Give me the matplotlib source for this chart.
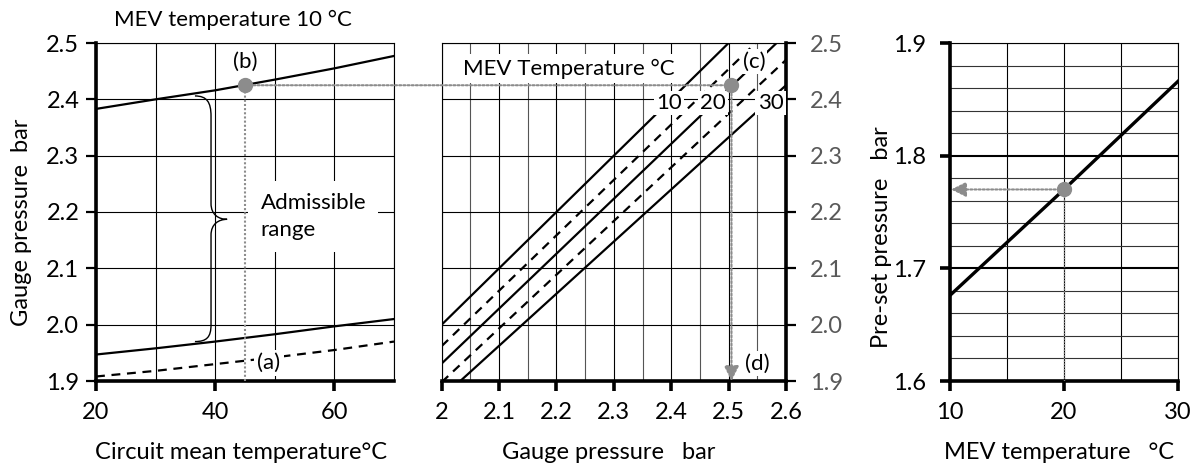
import matplotlib
matplotlib.use("Agg")
import matplotlib.pyplot as plt
from matplotlib.patches import ConnectionPatch, PathPatch
from matplotlib.path import Path
from matplotlib.ticker import MultipleLocator

plt.rcParams['font.family'] = ['Lato', 'DejaVu Sans']

# left panel: admissible gauge pressure vs circuit mean temperature (MEV 10 C)
circuit_temp = [20, 30, 40, 50, 60, 70]
upper_limit = [2.383, 2.400, 2.416, 2.435, 2.455, 2.477]
lower_limit = [1.947, 1.958, 1.970, 1.983, 1.997, 2.010]
fill_line = [1.908, 1.918, 1.930, 1.942, 1.955, 1.970]
point_b = (45, 2.425)

# brace: top end, bottom end, spine x, tip
brace_top = (36.6, 2.406)
brace_bottom = (36.6, 1.970)
brace_x = 39.3
brace_tip = (42.0, 2.187)

# middle panel: pressure conversion lines per MEV temperature
gauge_ends = [2.0, 2.6]
mev_temps = [10, 15, 20, 25, 30]
mev_lines = [
    [2.000, 2.600],
    [1.962, 2.552],
    [1.931, 2.516],
    [1.898, 2.470],
    [1.870, 2.425],
]
mev_styles = ['-', '--', '-', '--', '-']
mev_label_x = [2.396, 2.473, 2.573]
mev_label_y = 2.393
point_c = (2.505, 2.425)

# right panel: pre-set pressure vs MEV temperature
mev_temp = [10, 20, 30]
preset = [1.676, 1.770, 1.866]
point_r = (20, 1.770)

GREY = '#8c8c8c'
FS = 16      # annotations
TFS = 17     # tick labels
LFS = 17     # axis labels
DASH = (0, (4, 3))

fig = plt.figure(figsize=(11.96, 4.66), dpi=100)
W, H = 1196, 466
ax1 = fig.add_axes([96 / W, 85 / H, 298 / W, 338 / H])
ax2 = fig.add_axes([441.7 / W, 85 / H, 344.3 / W, 338 / H])
ax3 = fig.add_axes([950 / W, 85 / H, 228 / W, 338 / H])


def frame(ax, thick):
    for name, sp in ax.spines.items():
        sp.set_linewidth(2.6 if name in thick else 0.8)
        sp.set_color('black')
    ax.set_axisbelow(True)
    ax.tick_params(which='minor', length=0)
    ax.tick_params(axis='x', which='major', direction='out', length=7,
                   width=2.6, labelsize=TFS, pad=8)
    ax.tick_params(axis='y', which='major', direction='out', length=7,
                   width=1.6, labelsize=TFS)


# ---- left
ax1.set_xlim(20, 70)
ax1.set_ylim(1.9, 2.5)
ax1.set_xticks([20, 40, 60])
ax1.xaxis.set_minor_locator(MultipleLocator(10))
ax1.set_yticks([1.9, 2.0, 2.1, 2.2, 2.3, 2.4, 2.5])
ax1.set_yticklabels(['1.9', '2.0', '2.1', '2.2', '2.3', '2.4', '2.5'])
ax1.grid(which='both', color='black', lw=0.8)
frame(ax1, ['left', 'bottom'])
ax1.tick_params(axis='y', pad=5)

ax1.plot(circuit_temp, upper_limit, color='black', lw=1.6, zorder=3)
ax1.plot(circuit_temp, lower_limit, color='black', lw=1.6, zorder=3)
ax1.plot(circuit_temp, fill_line, color='black', lw=1.6, ls=DASH, zorder=3)

ax1.plot([point_b[0], point_b[0]], [1.9, point_b[1]], color=GREY, lw=1.5,
         ls=(0, (1, 1)), zorder=3)
ax1.plot(*point_b, 'o', color=GREY, ms=10, zorder=6)
ax1.text(point_b[0], 2.467, '(b)', ha='center', va='center', fontsize=FS)
ax1.text(49, 1.932, '(a)', ha='center', va='center', fontsize=FS, zorder=5,
         bbox=dict(boxstyle='square,pad=0.15', fc='white', ec='none'))
ax1.text(47.6, 2.192, 'Admissible\nrange', ha='left', va='center', fontsize=FS,
         linespacing=1.4, zorder=5,
         bbox=dict(boxstyle='square,pad=0.55', fc='white', ec='none'))

tx, ty = brace_tip
verts = [
    brace_top,
    (38.6, brace_top[1]), (brace_x, 2.395), (brace_x, 2.37),
    (brace_x, 2.215),
    (brace_x, 2.195), (40.6, ty), (tx, ty),
    (40.6, ty), (brace_x, 2.179), (brace_x, 2.159),
    (brace_x, 2.0),
    (brace_x, 1.978), (38.6, brace_bottom[1]), brace_bottom,
]
codes = [Path.MOVETO,
         Path.CURVE4, Path.CURVE4, Path.CURVE4,
         Path.LINETO,
         Path.CURVE4, Path.CURVE4, Path.CURVE4,
         Path.CURVE4, Path.CURVE4, Path.CURVE4,
         Path.LINETO,
         Path.CURVE4, Path.CURVE4, Path.CURVE4]
ax1.add_patch(PathPatch(Path(verts, codes), fc='none', ec='black', lw=1.0, zorder=4))

ax1.set_xlabel('Circuit mean temperature°C', fontsize=LFS)
ax1.xaxis.set_label_coords(0.486, -0.18)
ax1.set_ylabel('Gauge pressure  bar', fontsize=LFS)
ax1.yaxis.set_label_coords(-0.215, 0.47)
fig.text(233 / W, 1 - 20 / H, 'MEV temperature 10 °C', ha='center', va='center',
         fontsize=FS)

# ---- middle
ax2.set_xlim(2.0, 2.6)
ax2.set_ylim(1.9, 2.5)
ax2.set_xticks([2.0, 2.1, 2.2, 2.3, 2.4, 2.5, 2.6])
ax2.set_xticklabels(['2', '2.1', '2.2', '2.3', '2.4', '2.5', '2.6'])
ax2.xaxis.set_minor_locator(MultipleLocator(0.05))
ax2.set_yticks([1.9, 2.0, 2.1, 2.2, 2.3, 2.4, 2.5])
ax2.set_yticklabels(['1.9', '2.0', '2.1', '2.2', '2.3', '2.4', '2.5'])
ax2.yaxis.tick_right()
ax2.grid(which='major', color='black', lw=0.8)
ax2.grid(which='minor', axis='x', color='#555555', lw=0.8)
frame(ax2, ['right', 'bottom'])
ax2.tick_params(axis='y', pad=10, labelcolor='#595959')

for vals, style in zip(mev_lines, mev_styles):
    ax2.plot(gauge_ends, vals, color='black', lw=1.6,
             ls='-' if style == '-' else DASH, zorder=3)

ax2.text(2.221, 2.454, 'MEV Temperature °C', ha='center', va='center',
         fontsize=FS, zorder=5,
         bbox=dict(boxstyle='square,pad=0.2', fc='white', ec='none'))
for x, t in zip(mev_label_x, mev_temps[::2]):
    ax2.text(x, mev_label_y, str(t), ha='center', va='center', fontsize=FS,
             zorder=5, bbox=dict(boxstyle='square,pad=0.1', fc='white', ec='none'))
ax2.text(2.544, 2.467, '(c)', ha='center', va='center', fontsize=FS, zorder=5,
         bbox=dict(boxstyle='square,pad=0.1', fc='white', ec='none'))
ax2.text(2.550, 1.931, '(d)', ha='center', va='center', fontsize=FS, zorder=5,
         bbox=dict(boxstyle='square,pad=0.1', fc='white', ec='none'))

ax2.annotate('', xy=(point_c[0], 1.9), xytext=point_c,
             arrowprops=dict(arrowstyle='-|>,head_length=0.9,head_width=0.45',
                             color=GREY, lw=1.5, ls=(0, (1, 1)),
                             shrinkA=0, shrinkB=0), zorder=6)
ax2.plot(*point_c, 'o', color=GREY, ms=10, zorder=7)
ax2.set_xlabel('Gauge pressure   bar', fontsize=LFS)
ax2.xaxis.set_label_coords(0.486, -0.18)

con = ConnectionPatch(xyA=point_b, coordsA=ax1.transData,
                      xyB=point_c, coordsB=ax2.transData,
                      color=GREY, lw=1.5, ls=(0, (1, 1)))
fig.add_artist(con)

# ---- right
ax3.set_xlim(10, 30)
ax3.set_ylim(1.6, 1.9)
ax3.set_xticks([10, 20, 30])
ax3.xaxis.set_minor_locator(MultipleLocator(5))
ax3.set_yticks([1.6, 1.7, 1.8, 1.9])
ax3.yaxis.set_minor_locator(MultipleLocator(0.02))
ax3.grid(which='major', axis='y', color='black', lw=1.5)
ax3.grid(which='minor', axis='y', color='#333333', lw=0.8)
ax3.grid(which='both', axis='x', color='black', lw=0.8)
frame(ax3, ['left', 'bottom'])
ax3.tick_params(axis='y', pad=10, width=2.6)

ax3.plot(mev_temp, preset, color='black', lw=2.4, zorder=3)
ax3.plot([point_r[0], point_r[0]], [1.6, point_r[1]], color=GREY, lw=1.0,
         ls=(0, (1, 1)), zorder=3)
ax3.annotate('', xy=(10.1, point_r[1]), xytext=point_r,
             arrowprops=dict(arrowstyle='-|>,head_length=0.9,head_width=0.45',
                             color=GREY, lw=1.5, ls=(0, (1, 1)),
                             shrinkA=0, shrinkB=0), zorder=6)
ax3.plot(*point_r, 'o', color=GREY, ms=10, zorder=7)
ax3.set_xlabel('MEV temperature   °C', fontsize=LFS)
ax3.xaxis.set_label_coords(0.478, -0.18)
ax3.set_ylabel('Pre-set pressure   bar', fontsize=LFS)
ax3.yaxis.set_label_coords(-0.254, 0.426)

fig.savefig('out.png', dpi=100)
